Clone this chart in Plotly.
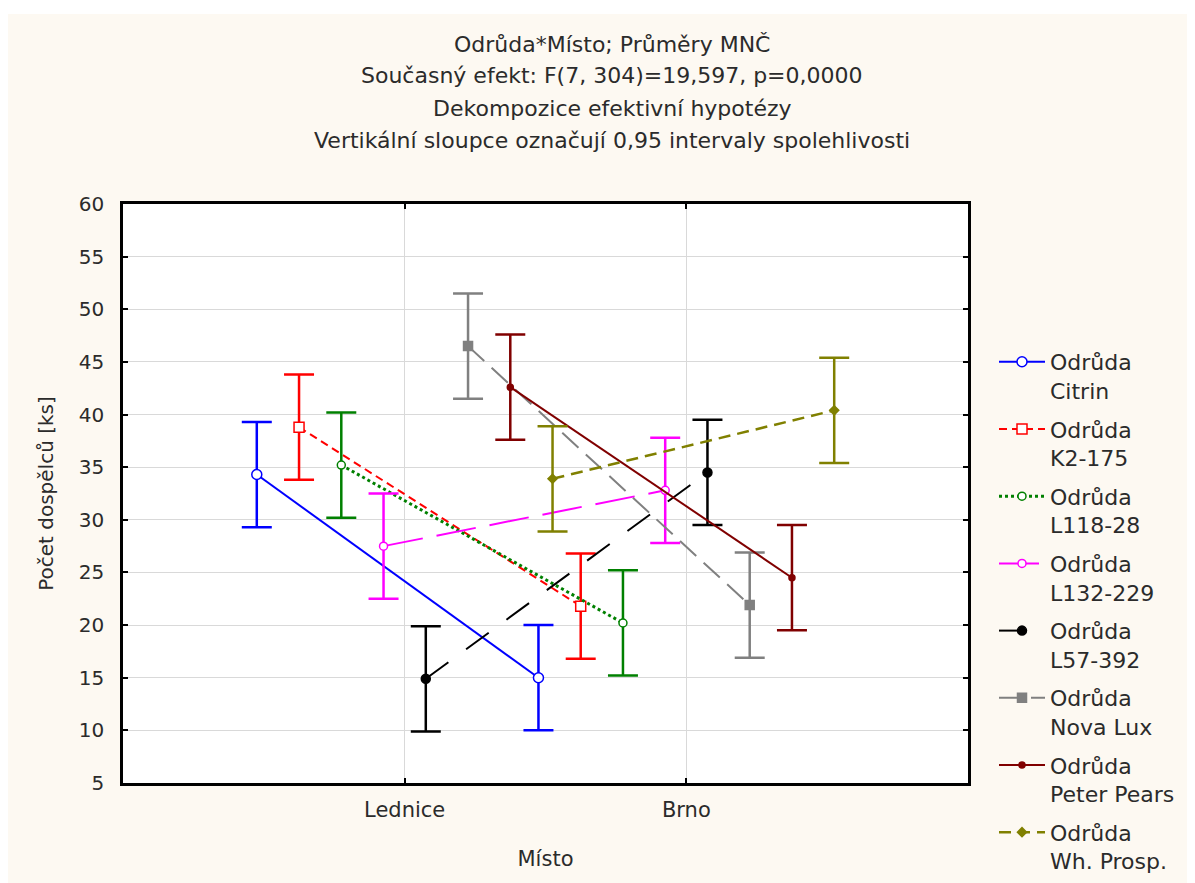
import plotly.graph_objects as go

# ---- data ----
categories = ["Lednice", "Brno"]
cat_positions = [1, 2]
varieties = ["Citrin", "K2-175", "L118-28", "L132-229", "L57-392", "Nova Lux", "Peter Pears", "Wh. Prosp."]
mean_citrin = [34.3, 15.0]
mean_k2 = [38.8, 21.8]
mean_l118 = [35.2, 20.2]
mean_l132 = [27.5, 32.8]
mean_l57 = [14.9, 34.5]
mean_novalux = [46.5, 21.9]
mean_peter = [42.6, 24.5]
mean_whprosp = [33.9, 40.4]
ci_citrin = [5.0, 5.0]
ci_k2 = [5.0, 5.0]
ci_l118 = [5.0, 5.0]
ci_l132 = [5.0, 5.0]
ci_l57 = [5.0, 5.0]
ci_novalux = [5.0, 5.0]
ci_peter = [5.0, 5.0]
ci_whprosp = [5.0, 5.0]
y_ticks = [5, 10, 15, 20, 25, 30, 35, 40, 45, 50, 55, 60]

means = [mean_citrin, mean_k2, mean_l118, mean_l132, mean_l57, mean_novalux, mean_peter, mean_whprosp]
cis = [ci_citrin, ci_k2, ci_l118, ci_l132, ci_l57, ci_novalux, ci_peter, ci_whprosp]

# ---- styles ----
colors = ["#0000FF", "#FF0000", "#008000", "#FF00FF", "#000000", "#808080", "#800000", "#808000"]
dashes = ["solid", "8px,5px", "dot", "40px,14px", "28px,22px", "22px,10px", "solid", "12px,7px"]
line_w = [2, 2, 3, 2, 2, 2, 2, 2.5]
symbols = ["circle", "square", "circle", "circle", "circle", "square", "circle", "diamond"]
sizes = [10, 10, 8, 8, 9, 9, 6, 7]
fills = ["white", "white", "white", "white", "#000000", "#808080", "#800000", "#808000"]

FONT = "DejaVu Sans"
TXT = "#2b2b2b"

# page body has an 8px margin; figure coordinates below are page coords minus 8
OFF = 8
W, H = 1195 - OFF, 883 - OFF
L, R, T, B = 123 - OFF, 968 - OFF, 204 - OFF, 783 - OFF


def px_x(px):
    return (px - OFF - L) / (R - L)


def px_y(py):
    return (B - (py - OFF)) / (B - T)


fig = go.Figure()
n = len(varieties)
for i in range(n):
    off = (i - (n - 1) / 2) * 0.15
    xs = [p + off for p in cat_positions]
    fig.add_trace(go.Scatter(
        x=xs, y=means[i], mode="lines+markers",
        name="Odrůda<br>" + varieties[i],
        legendgroup=f"g{i}",
        line=dict(color=colors[i], width=line_w[i], dash=dashes[i]),
        marker=dict(symbol=symbols[i], size=sizes[i], color=fills[i],
                    line=dict(color=colors[i], width=1.5)),
        error_y=dict(type="data", array=cis[i], visible=True, color=colors[i],
                     thickness=2.5, width=15),
    ))

title_lines = [
    "Odrůda*Místo; Průměry MNČ",
    "Současný efekt: F(7, 304)=19,597, p=0,0000",
    "Dekompozice efektivní hypotézy",
    "Vertikální sloupce označují 0,95 intervaly spolehlivosti",
]
title_py = [44, 76, 108, 140]
annotations = []
for txt, py in zip(title_lines, title_py):
    annotations.append(dict(
        text=txt, xref="paper", yref="paper",
        x=px_x(612), y=px_y(py),
        xanchor="center", yanchor="middle", showarrow=False,
        font=dict(family=FONT, size=22, color=TXT)))

fig.update_layout(
    width=W, height=H,
    margin=dict(l=L, r=W - R, t=T, b=H - B, pad=0, autoexpand=False),
    paper_bgcolor="#FDF9F2", plot_bgcolor="white",
    font=dict(family=FONT, size=20, color=TXT),
    showlegend=True,
    legend=dict(x=px_x(994), y=px_y(341), xanchor="left", yanchor="top",
                bgcolor="rgba(0,0,0,0)", font=dict(family=FONT, size=22, color=TXT),
                valign="top", tracegroupgap=7, itemwidth=46, maxheight=1000),
    annotations=annotations,
    shapes=[
        dict(type="rect", xref="paper", yref="paper",
             x0=px_x(0) - 0.01, x1=px_x(1195) + 0.01,
             y0=px_y(14), y1=px_y(0) + 0.01,
             fillcolor="white", line=dict(width=0), layer="below"),
    ],
)
fig.update_xaxes(
    range=[0, 3], tickvals=cat_positions, ticktext=categories,
    showgrid=True, gridcolor="#D9D9D9", gridwidth=1, zeroline=False,
    showline=True, linecolor="black", linewidth=2.5, mirror="allticks",
    ticks="inside", ticklen=5, tickwidth=2, tickcolor="black",
    ticklabelstandoff=6,
    tickfont=dict(family=FONT, size=21, color=TXT),
    title=dict(text="Místo", font=dict(family=FONT, size=21, color=TXT), standoff=31),
)
fig.update_yaxes(
    range=[5, 60], tickvals=y_ticks,
    showgrid=True, gridcolor="#D9D9D9", gridwidth=1, zeroline=False,
    showline=True, linecolor="black", linewidth=2.5, mirror="allticks",
    ticks="inside", ticklen=5, tickwidth=2, tickcolor="black",
    ticklabelstandoff=12,
    tickfont=dict(family=FONT, size=20, color=TXT),
    title=dict(text="Počet dospělců [ks]", font=dict(family=FONT, size=20, color=TXT), standoff=20),
)

fig.write_html("out.html")
